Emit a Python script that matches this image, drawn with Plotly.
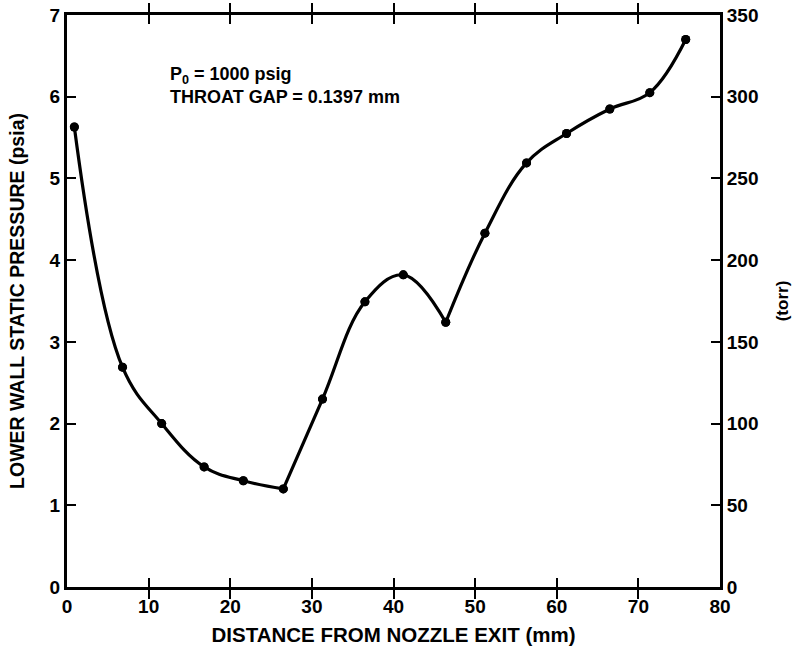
import plotly.graph_objects as go

# Data
distance_mm = [0.9, 6.8, 11.6, 16.8, 21.6, 26.5, 31.3, 36.5, 41.2, 46.4,
               51.2, 56.3, 61.2, 66.5, 71.4, 75.8]
pressure_psia = [5.63, 2.69, 2.00, 1.47, 1.30, 1.20, 2.30, 3.49, 3.82, 3.24,
                 4.33, 5.19, 5.55, 5.85, 6.05, 6.70]
# curve breaks (cusps) at these point indices
segment_breaks = [0, 5, 9, 15]

x_ticks = [0, 10, 20, 30, 40, 50, 60, 70, 80]
y_ticks = [0, 1, 2, 3, 4, 5, 6, 7]
torr_ticks = [0, 50, 100, 150, 200, 250, 300, 350]
PSIA_TO_TORR_AXIS = 50  # right axis scale: 50 torr per psia gridline

FONT = "Liberation Sans"
fig = go.Figure()

for a, b in zip(segment_breaks[:-1], segment_breaks[1:]):
    fig.add_trace(go.Scatter(
        x=distance_mm[a:b + 1], y=pressure_psia[a:b + 1],
        mode="lines", line=dict(color="black", width=3.2, shape="spline", smoothing=1.1),
        showlegend=False, hoverinfo="skip"))

fig.add_trace(go.Scatter(
    x=distance_mm, y=pressure_psia, mode="markers",
    marker=dict(color="black", size=9), showlegend=False))

# same points on the torr axis, so the right axis is bound to data
fig.add_trace(go.Scatter(
    x=distance_mm, y=[p * PSIA_TO_TORR_AXIS for p in pressure_psia], yaxis="y2",
    mode="markers", marker=dict(color="black", size=9), showlegend=False,
    hoverinfo="skip"))

tickfont = dict(family=FONT, size=19, color="black", weight=700)
fig.update_layout(
    width=792, height=650,
    margin=dict(l=67, r=72, t=15, b=63, autoexpand=False),
    paper_bgcolor="white", plot_bgcolor="white",
    xaxis=dict(range=[0, 80], tickvals=x_ticks, ticks="inside", ticklen=9, tickwidth=2,
               tickcolor="black", showline=True, linecolor="black", linewidth=3,
               mirror="allticks", showgrid=False, zeroline=False, tickfont=tickfont,
               automargin=False,
               title=dict(text="DISTANCE FROM NOZZLE EXIT (mm)", standoff=12,
                          font=dict(family=FONT, size=20.5, color="black", weight=700))),
    yaxis=dict(range=[0, 7], tickvals=y_ticks, ticks="inside", ticklen=9, tickwidth=2,
               tickcolor="black", showline=True, linecolor="black", linewidth=3,
               showgrid=False, zeroline=False, tickfont=tickfont, automargin=False,
               title=dict(text="LOWER WALL STATIC PRESSURE (psia)", standoff=20,
                          font=dict(family=FONT, size=19.5, color="black", weight=700))),
    yaxis2=dict(range=[0, 350], tickvals=torr_ticks, overlaying="y", side="right",
                ticks="inside", ticklen=9, tickwidth=2, tickcolor="black",
                showline=True, linecolor="black", linewidth=3, automargin=False,
                showgrid=False, zeroline=False, tickfont=tickfont,
                title=dict(text="(torr)", standoff=20,
                           font=dict(family=FONT, size=17, color="black", weight=700))),
)

fig.add_annotation(x=12.4, y=6.14, xref="x", yref="y", xanchor="left", yanchor="middle",
                   align="left",
                   text="P<sub>0</sub> = 1000 psig<br>THROAT GAP = 0.1397 mm",
                   showarrow=False,
                   font=dict(family=FONT, size=18, color="black", weight=700))

fig.write_html("out.html")
